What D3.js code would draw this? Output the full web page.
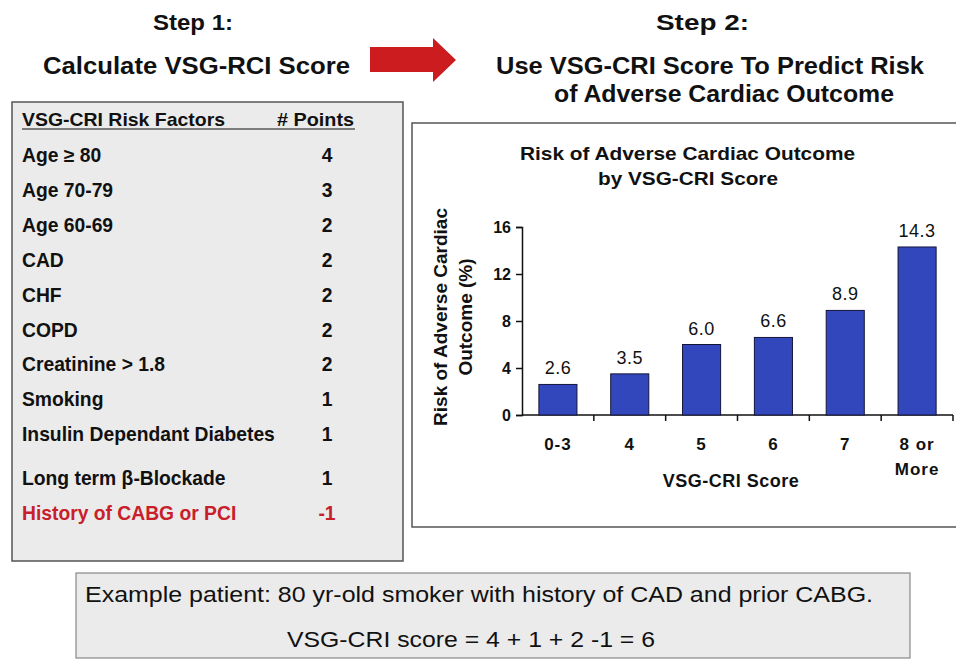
<!DOCTYPE html>
<html>
<head>
<meta charset="utf-8">
<script src="https://cdn.jsdelivr.net/npm/d3@7"></script>
<style>
  body { margin: 0; background: #fff; }
  svg { font-family: "Liberation Sans", Arial, sans-serif; }
</style>
</head>
<body>
<div id="chart"></div>
<script>
// risk factor table
const factors = ["Age \u2265 80", "Age 70-79", "Age 60-69", "CAD", "CHF", "COPD",
  "Creatinine > 1.8", "Smoking", "Insulin Dependant Diabetes",
  "Long term \u03B2-Blockade", "History of CABG or PCI"];
const points = [4, 3, 2, 2, 2, 2, 2, 1, 1, 1, -1];

// bar chart
const scoreCats = ["0-3", "4", "5", "6", "7", "8 or More"];
const riskPct = [2.6, 3.5, 6.0, 6.6, 8.9, 14.3];
const yTicks = [0, 4, 8, 12, 16];

const width = 956, height = 661;

const svg = d3.select("#chart").append("svg")
  .attr("width", width)
  .attr("height", height);

// headings (x = left edge, len = rendered width)
const heads = [
  { t: "Step 1:", x: 153, y: 30, s: 22, len: 80 },
  { t: "Calculate VSG-RCI Score", x: 43, y: 74, s: 23, len: 307 },
  { t: "Step 2:", x: 656, y: 30, s: 22, len: 93 },
  { t: "Use VSG-CRI Score To Predict Risk", x: 496, y: 74, s: 23, len: 428 },
  { t: "of Adverse Cardiac Outcome", x: 554, y: 102, s: 23, len: 340 }
];
svg.selectAll(".head").data(heads).enter().append("text")
  .attr("class", "head")
  .attr("x", d => d.x).attr("y", d => d.y)
  .attr("textLength", d => d.len).attr("lengthAdjust", "spacingAndGlyphs")
  .style("font-size", d => d.s + "px")
  .style("font-weight", "bold")
  .attr("fill", "#111")
  .text(d => d.t);

// red arrow
svg.append("path")
  .attr("d", "M370,47 L433,47 L433,38 L456,60 L433,82 L433,72 L370,72 Z")
  .attr("fill", "#cc1c1f");

// ---- table panel ----
svg.append("rect")
  .attr("x", 12).attr("y", 102).attr("width", 391).attr("height", 459)
  .attr("fill", "#ebebeb").attr("stroke", "#555").attr("stroke-width", 1.5);

const tbl = svg.append("g");
tbl.append("text").attr("x", 22).attr("y", 126)
  .attr("textLength", 203).attr("lengthAdjust", "spacingAndGlyphs")
  .style("font-size", "19px").style("font-weight", "bold").attr("fill", "#111")
  .text("VSG-CRI Risk Factors");
tbl.append("text").attr("x", 277).attr("y", 126)
  .attr("textLength", 77).attr("lengthAdjust", "spacingAndGlyphs")
  .style("font-size", "19px").style("font-weight", "bold").attr("fill", "#111")
  .text("# Points");
tbl.append("line").attr("x1", 22).attr("x2", 355).attr("y1", 129).attr("y2", 129)
  .attr("stroke", "#111").attr("stroke-width", 1.2);

const rowY = d3.scaleLinear().domain([0, 1]).range([162, 196.9]);
const rowPos = i => rowY(i) + (i >= 9 ? 9 : 0);
const isRed = i => points[i] < 0;

tbl.selectAll(".fac").data(factors).enter().append("text")
  .attr("class", "fac")
  .attr("x", 22).attr("y", (d, i) => rowPos(i))
  .style("font-size", "19.3px").style("font-weight", "bold")
  .attr("fill", (d, i) => isRed(i) ? "#c8202a" : "#111")
  .text(d => d);
tbl.selectAll(".pts").data(points).enter().append("text")
  .attr("class", "pts")
  .attr("x", 327).attr("y", (d, i) => rowPos(i))
  .attr("text-anchor", "middle")
  .style("font-size", "19.3px").style("font-weight", "bold")
  .attr("fill", (d, i) => isRed(i) ? "#c8202a" : "#111")
  .text(d => d);

// ---- chart panel ----
svg.append("rect")
  .attr("x", 412).attr("y", 123).attr("width", 560).attr("height", 404)
  .attr("fill", "#fff").attr("stroke", "#555").attr("stroke-width", 1.5);

svg.append("text").attr("x", 520).attr("y", 160)
  .attr("textLength", 335).attr("lengthAdjust", "spacingAndGlyphs")
  .style("font-size", "19px").style("font-weight", "bold")
  .attr("fill", "#111").text("Risk of Adverse Cardiac Outcome");
svg.append("text").attr("x", 598).attr("y", 185)
  .attr("textLength", 180).attr("lengthAdjust", "spacingAndGlyphs")
  .style("font-size", "19px").style("font-weight", "bold")
  .attr("fill", "#111").text("by VSG-CRI Score");

const x = d3.scaleBand().domain(scoreCats).range([522, 953]).paddingInner(0.47).paddingOuter(0.235);
const xEdge = d3.scaleLinear().domain([0, scoreCats.length]).range([522, 953]);
const y = d3.scaleLinear().domain([0, 16]).range([415, 227]);

// y axis
const yAxis = svg.append("g")
  .attr("transform", "translate(522,0)")
  .call(d3.axisLeft(y).tickValues(yTicks).tickSize(6).tickPadding(5));
yAxis.select(".domain").attr("stroke", "#111").attr("stroke-width", 1.5);
yAxis.selectAll(".tick line").attr("stroke", "#111").attr("stroke-width", 1.5);
yAxis.selectAll("text")
  .style("font-size", "16px").style("font-weight", "bold")
  .style("font-family", "'Liberation Sans', Arial, sans-serif")
  .attr("fill", "#111");

// x axis line and boundary ticks
svg.append("line")
  .attr("x1", 522).attr("x2", 953).attr("y1", y(0)).attr("y2", y(0))
  .attr("stroke", "#111").attr("stroke-width", 1.5);
svg.selectAll(".xtick").data(d3.range(1, scoreCats.length + 1)).enter().append("line")
  .attr("class", "xtick")
  .attr("x1", d => xEdge(d)).attr("x2", d => xEdge(d))
  .attr("y1", y(0)).attr("y2", y(0) + 6)
  .attr("stroke", "#111").attr("stroke-width", 1.5);

// x labels (may wrap to two lines)
const xl = svg.selectAll(".xl").data(scoreCats).enter().append("text")
  .attr("class", "xl")
  .attr("x", d => x(d) + x.bandwidth() / 2)
  .attr("y", 450)
  .attr("text-anchor", "middle")
  .style("font-size", "17px").style("font-weight", "bold").style("letter-spacing", "1px")
  .attr("fill", "#111");
xl.each(function(d) {
  const parts = d === "8 or More" ? ["8 or", "More"] : [d];
  const t = d3.select(this);
  parts.forEach((p, i) => {
    t.append("tspan").attr("x", x(d) + x.bandwidth() / 2)
      .attr("dy", i === 0 ? 0 : 25).text(p);
  });
});

svg.append("text").attr("x", 731).attr("y", 487).attr("text-anchor", "middle")
  .style("font-size", "18px").style("font-weight", "bold").style("letter-spacing", "0.5px")
  .attr("fill", "#111").text("VSG-CRI Score");

// y title
const yt = svg.append("text")
  .attr("transform", "translate(441,317) rotate(-90)")
  .attr("text-anchor", "middle")
  .style("font-size", "19px").style("font-weight", "bold")
  .attr("fill", "#111");
yt.append("tspan").attr("x", 0).attr("y", 6).text("Risk of Adverse Cardiac");
yt.append("tspan").attr("x", 0).attr("y", 31).text("Outcome (%)");

// bars
svg.selectAll(".bar").data(riskPct).enter().append("rect")
  .attr("class", "bar")
  .attr("x", (d, i) => x(scoreCats[i]))
  .attr("y", d => y(d))
  .attr("width", x.bandwidth())
  .attr("height", d => y(0) - y(d))
  .attr("fill", "#3347bd")
  .attr("stroke", "#14143a").attr("stroke-width", 1);

svg.selectAll(".val").data(riskPct).enter().append("text")
  .attr("class", "val")
  .attr("x", (d, i) => x(scoreCats[i]) + x.bandwidth() / 2)
  .attr("y", d => y(d) - 10)
  .attr("text-anchor", "middle")
  .style("font-size", "18px").style("letter-spacing", "0.5px")
  .attr("fill", "#111")
  .text(d => d.toFixed(1));

// ---- example box ----
svg.append("rect")
  .attr("x", 76).attr("y", 573).attr("width", 834).attr("height", 85)
  .attr("fill", "#ebebeb").attr("stroke", "#888").attr("stroke-width", 1.2);
svg.append("text").attr("x", 85).attr("y", 602)
  .attr("textLength", 788).attr("lengthAdjust", "spacingAndGlyphs")
  .style("font-size", "22px").attr("fill", "#111")
  .text("Example patient: 80 yr-old smoker with history of CAD and prior CABG.");
svg.append("text").attr("x", 287).attr("y", 647)
  .attr("textLength", 368).attr("lengthAdjust", "spacingAndGlyphs")
  .style("font-size", "22px").attr("fill", "#111")
  .text("VSG-CRI score = 4 + 1 + 2 -1 = 6");
</script>
</body>
</html>
